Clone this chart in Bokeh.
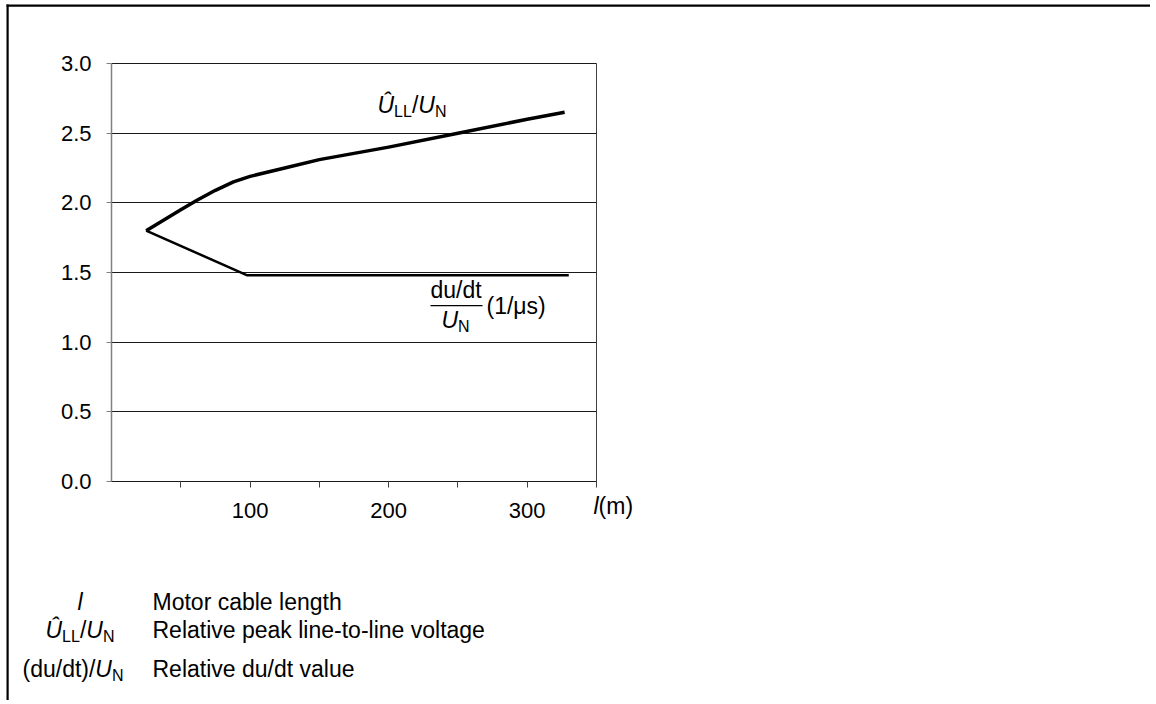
from bokeh.plotting import figure
from bokeh.models import FixedTicker, Label, BoxAnnotation, PrintfTickFormatter, Range1d
from bokeh.embed import file_html
from bokeh.resources import INLINE

# ---------------- data ----------------
peak_length_m = [25, 50, 62, 75, 88, 100, 125, 150, 200, 250, 300, 327]
peak_voltage_rel = [1.80, 1.95, 2.02, 2.09, 2.15, 2.19, 2.25, 2.31, 2.40, 2.50, 2.60, 2.65]
dudt_length_m = [25, 98, 150, 200, 250, 300, 330]
dudt_rel = [1.80, 1.48, 1.48, 1.48, 1.48, 1.48, 1.48]
x_major_ticks = [100, 200, 300]
x_minor_ticks = [50, 150, 250, 350]
y_ticks = [0.0, 0.5, 1.0, 1.5, 2.0, 2.5, 3.0]
legend_descriptions = ["Motor cable length",
                       "Relative peak line-to-line voltage",
                       "Relative du/dt value"]

FONT = "Liberation Sans"
X_MAX, Y_MAX = 350, 3.0

# canvas size and plot-area geometry (page px)
W, H = 1150, 700
FL, FR, FT, FB = 111, 596, 63, 481


def dx(px):
    return (px - FL) / (FR - FL) * X_MAX


def dy(py):
    return (FB - py) / (FB - FT) * Y_MAX


p = figure(width=W, height=H, output_backend="svg", toolbar_location=None, title=None,
           x_range=Range1d(dx(0), dx(W)), y_range=Range1d(dy(H), dy(0)),
           min_border=0, min_border_left=0, min_border_right=0,
           min_border_top=0, min_border_bottom=0)
p.background_fill_color = "white"
p.border_fill_color = "white"
p.outline_line_color = None

# horizontal grid lines (0.0 .. 3.0) limited to the plot area
yg = p.ygrid[0]
yg.ticker = FixedTicker(ticks=y_ticks)
yg.bounds = (0, Y_MAX)
yg.cross_bounds = (0, X_MAX)
yg.grid_line_color = "#1a1a1a"
yg.grid_line_width = 1

# right edge of the plot area
xg = p.xgrid[0]
xg.ticker = FixedTicker(ticks=[X_MAX])
xg.bounds = (0, X_MAX)
xg.cross_bounds = (0, Y_MAX)
xg.grid_line_color = "#404040"
xg.grid_line_width = 1

# y axis
ya = p.yaxis[0]
ya.fixed_location = 0
ya.bounds = (0, Y_MAX)
ya.ticker = FixedTicker(ticks=y_ticks)
ya.formatter = PrintfTickFormatter(format="%.1f")
ya.axis_line_color = "#808080"
ya.axis_line_width = 1.5
ya.major_tick_line_color = "#808080"
ya.major_tick_out = 5
ya.major_tick_in = 0
ya.minor_tick_line_color = None
ya.major_label_text_font = FONT
ya.major_label_text_font_size = "22px"
ya.major_label_text_color = "black"
ya.major_label_standoff = 15

# x axis
xa = p.xaxis[0]
xa.fixed_location = 0
xa.bounds = (0, X_MAX)
xa.ticker = FixedTicker(ticks=x_major_ticks, minor_ticks=x_minor_ticks)
xa.axis_line_color = "#1a1a1a"
xa.major_tick_line_color = "#404040"
xa.minor_tick_line_color = "#404040"
xa.major_tick_out = 6
xa.major_tick_in = 0
xa.minor_tick_out = 6
xa.minor_tick_in = 0
xa.major_label_text_font = FONT
xa.major_label_text_font_size = "22px"
xa.major_label_text_color = "black"
xa.major_label_standoff = 15

# lines
p.line(peak_length_m, peak_voltage_rel, line_color="black", line_width=3.5, line_join="round")
p.line(dudt_length_m, dudt_rel, line_color="black", line_width=2.5, line_join="round")

# outer border (top and left edges of the figure box)
p.add_layout(BoxAnnotation(left=dx(6), right=dx(W), top=dy(4), bottom=dy(6.2),
                           fill_color="black", fill_alpha=1, line_alpha=0, line_width=0))
p.add_layout(BoxAnnotation(left=dx(6), right=dx(8.2), top=dy(4), bottom=dy(H),
                           fill_color="black", fill_alpha=1, line_alpha=0, line_width=0))

# ---------------- text helpers ----------------
CW = {"U": .722, "Û": .722, "L": .556, "N": .722, "/": .278, "(": .333, ")": .333,
      "d": .556, "u": .556, "t": .278, "1": .556, "μ": .576, "s": .5, "l": .222,
      " ": .278, "m": .833}


def tw(s, size):
    return sum(CW.get(c, .556) for c in s) * size


SUB_DY = 7
TEXT_SHIFT = -9  # renderer places alphabetic baseline a little low


def compose(px, base, pieces):
    x = px
    for t, size, italic, sub in pieces:
        p.add_layout(Label(x=dx(x), y=dy(base + TEXT_SHIFT + (SUB_DY if sub else 0)), text=t,
                           text_font=FONT, text_font_size=f"{size}px",
                           text_font_style="italic" if italic else "normal",
                           text_color="black", text_baseline="alphabetic",
                           text_align="left"))
        x += tw(t, size)


M, S = 23, 16
peak_sym = [("Û", M, True, False), ("LL", S, False, True), ("/", M, False, False),
            ("U", M, True, False), ("N", S, False, True)]

# curve labels
compose(377, 113, peak_sym)
compose(430, 298, [("du/dt", M, False, False)])
p.add_layout(BoxAnnotation(left=dx(430), right=dx(482), top=dy(304.5), bottom=dy(305.7),
                           fill_color="black", fill_alpha=1, line_alpha=0, line_width=0))
compose(441, 328, [("U", M, True, False), ("N", S, False, True)])
compose(486, 314, [("(1/μs)", M, False, False)])

# x-axis title
compose(593, 514, [("l", M, True, False), (" (m)", M, False, False)])

# legend
compose(77, 610, [("l", M, True, False)])
compose(45, 638, peak_sym)
compose(22, 677, [("(du/dt)/", M, False, False), ("U", M, True, False), ("N", S, False, True)])
for desc, base in zip(legend_descriptions, [610, 638, 677]):
    compose(152, base, [(desc, M, False, False)])

open("out.html", "w").write(file_html(p, INLINE))
